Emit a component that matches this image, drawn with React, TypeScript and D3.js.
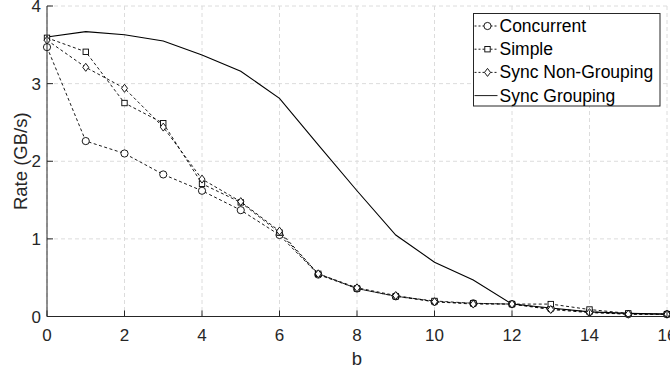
import React from "react";
import * as d3 from "d3";

const bValues = [0, 1, 2, 3, 4, 5, 6, 7, 8, 9, 10, 11, 12, 13, 14, 15, 16];
const concurrent = [3.47, 2.26, 2.1, 1.83, 1.62, 1.37, 1.05, 0.54, 0.36, 0.26, 0.19, 0.17, 0.16, 0.1, 0.06, 0.03, 0.03];
const simple = [3.59, 3.41, 2.75, 2.49, 1.71, 1.47, 1.08, 0.55, 0.36, 0.26, 0.2, 0.17, 0.16, 0.16, 0.09, 0.04, 0.03];
const syncNonGrouping = [3.56, 3.21, 2.94, 2.44, 1.77, 1.48, 1.1, 0.55, 0.37, 0.27, 0.19, 0.16, 0.16, 0.09, 0.05, 0.03, 0.03];
const syncGrouping = [3.6, 3.67, 3.63, 3.55, 3.37, 3.16, 2.81, 2.21, 1.62, 1.05, 0.7, 0.47, 0.16, 0.11, 0.06, 0.04, 0.03];
const xTicks = [0, 2, 4, 6, 8, 10, 12, 14, 16];
const yTicks = [0, 1, 2, 3, 4];
const seriesNames = ["Concurrent", "Simple", "Sync Non-Grouping", "Sync Grouping"];
const markerTypes = ["circle", "square", "diamond", "none"];

const W = 670;
const H = 371;
const FONT = "'Liberation Sans', Arial, Helvetica, sans-serif";

function Marker({ type, x, y }: { type: string; x: number; y: number }) {
  if (type === "circle") return <circle cx={x} cy={y} r={3.6} fill="white" stroke="black" strokeWidth={0.9} />;
  if (type === "square") return <rect x={x - 2.7} y={y - 2.7} width={5.4} height={5.4} fill="white" stroke="black" strokeWidth={0.9} />;
  if (type === "diamond")
    return <path d={`M${x},${y - 4} L${x + 3},${y} L${x},${y + 4} L${x - 3},${y} Z`} fill="white" stroke="black" strokeWidth={0.9} />;
  return null;
}

export default function App() {
  const x = d3.scaleLinear().domain([0, 16]).range([47, 667]);
  const y = d3.scaleLinear().domain([0, 4]).range([316.5, 6]);
  const allSeries = [concurrent, simple, syncNonGrouping, syncGrouping];
  const line = d3
    .line<number>()
    .x((_, i) => x(bValues[i]))
    .y((d) => y(d));

  const axisColor = "#262626";
  const legX = 473.5;
  const legY = 13.5;
  const legW = 186.5;
  const legH = 92.5;
  const rowH = 23.2;

  return (
    <svg width={W} height={H} style={{ position: "absolute", left: 0, top: 0, background: "white" }} fontFamily={FONT}>
      <rect x={0} y={0} width={W} height={H} fill="white" />
      {/* grid */}
      {xTicks.map((t) => (
        <line key={"gx" + t} x1={x(t)} x2={x(t)} y1={y(4)} y2={y(0)} stroke="#dcdcdc" strokeWidth={1} strokeDasharray="4,3" />
      ))}
      {yTicks.map((t) => (
        <line key={"gy" + t} x1={x(0)} x2={x(16)} y1={y(t)} y2={y(t)} stroke="#dcdcdc" strokeWidth={1} strokeDasharray="4,3" />
      ))}
      {/* series lines */}
      {allSeries.map((s, si) => (
        <path
          key={"l" + si}
          d={line(s) || ""}
          fill="none"
          stroke="black"
          strokeWidth={si === 3 ? 1.1 : 0.9}
          strokeDasharray={si === 3 ? undefined : "3,2.5"}
        />
      ))}
      {/* markers */}
      {allSeries.map((s, si) =>
        s.map((v, i) => <Marker key={`m${si}-${i}`} type={markerTypes[si]} x={x(bValues[i])} y={y(v)} />)
      )}
      {/* axes */}
      <line x1={x(0)} x2={x(0)} y1={y(4)} y2={y(0)} stroke={axisColor} strokeWidth={1} />
      <line x1={x(0)} x2={x(16)} y1={y(0)} y2={y(0)} stroke={axisColor} strokeWidth={1} />
      {xTicks.map((t) => (
        <g key={"xt" + t}>
          <line x1={x(t)} x2={x(t)} y1={y(0)} y2={y(0) - 6} stroke={axisColor} strokeWidth={1} />
          <text x={x(t)} y={y(0) + 24} textAnchor="middle" fontSize={17} fill={axisColor}>
            {t}
          </text>
        </g>
      ))}
      {yTicks.map((t) => (
        <g key={"yt" + t}>
          <line x1={x(0)} x2={x(0) + 6} y1={y(t)} y2={y(t)} stroke={axisColor} strokeWidth={1} />
          <text x={x(0) - 6} y={y(t) + 6} textAnchor="end" fontSize={17} fill={axisColor}>
            {t}
          </text>
        </g>
      ))}
      <text x={(x(0) + x(16)) / 2} y={365} textAnchor="middle" fontSize={18.5} fill={axisColor}>
        b
      </text>
      <text
        transform={`translate(27, ${(y(0) + y(4)) / 2}) rotate(-90)`}
        textAnchor="middle"
        fontSize={18.5}
        fill={axisColor}
      >
        Rate (GB/s)
      </text>
      {/* legend */}
      <rect x={legX} y={legY} width={legW} height={legH} fill="white" stroke={axisColor} strokeWidth={1} />
      {seriesNames.map((name, i) => {
        const cy = legY + 12.5 + i * rowH;
        return (
          <g key={"lg" + i}>
            <line
              x1={legX + 1}
              x2={legX + 24}
              y1={cy}
              y2={cy}
              stroke="black"
              strokeWidth={0.9}
              strokeDasharray={i === 3 ? undefined : "2,2"}
            />
            <Marker type={markerTypes[i]} x={legX + 14} y={cy} />
            <text x={legX + 26} y={cy + 6} fontSize={17.5} fill="black">
              {name}
            </text>
          </g>
        );
      })}
    </svg>
  );
}
